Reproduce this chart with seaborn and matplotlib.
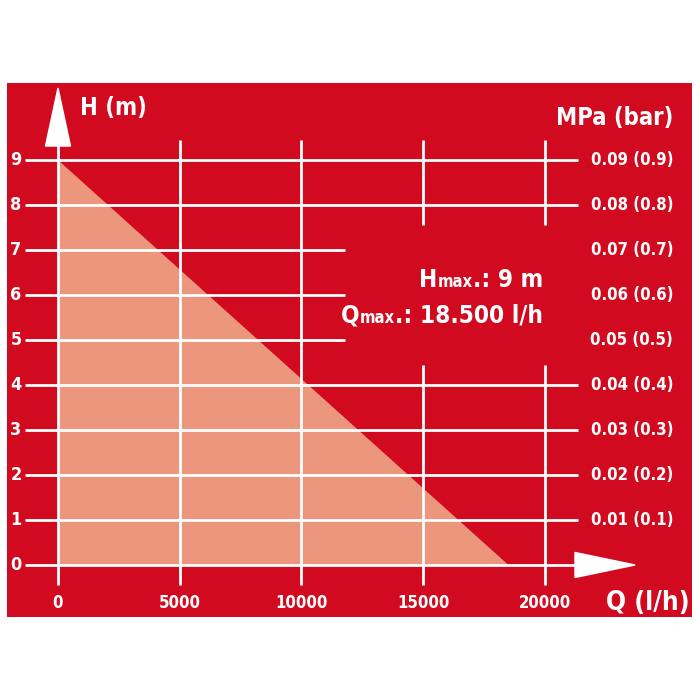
import matplotlib
matplotlib.use("Agg")
import matplotlib.pyplot as plt
from matplotlib.patches import Polygon
import seaborn as sns
import pandas as pd

# pump curve: delivery head H (m) over flow Q (l/h)
flow_q = [0, 18500]
head_h = [9, 0]

x_ticks = [0, 5000, 10000, 15000, 20000]
y_ticks = [0, 1, 2, 3, 4, 5, 6, 7, 8, 9]
pressure_labels = ["", "0.01 (0.1)", "0.02 (0.2)", "0.03 (0.3)", "0.04 (0.4)",
                   "0.05 (0.5)", "0.06 (0.6)", "0.07 (0.7)", "0.08 (0.8)", "0.09 (0.9)"]

RED = "#D20A1F"
SALMON = "#EC967E"
WHITE = "white"

sns.set_style("white")
plt.rcParams['font.family'] = ['DejaVu Sans']
plt.rcParams['font.weight'] = 'bold'
plt.rcParams['font.stretch'] = 'condensed'

fig = plt.figure(figsize=(7, 7), dpi=100)
ax = fig.add_axes([7 / 700, 83 / 700, 685 / 700, 534 / 700])
ax.set_facecolor(RED)
for s in ax.spines.values():
    s.set_visible(False)
ax.set_xlim(-2094, 26037)
ax.set_ylim(-1.156, 10.711)
ax.set_xticks([])
ax.set_yticks([])

# triangle area under the curve
df = pd.DataFrame({"Q": flow_q, "H": head_h})
sns.lineplot(data=df, x="Q", y="H", ax=ax, color=SALMON, linewidth=0, zorder=1)
ax.fill_between(df["Q"], df["H"], 0, color=SALMON, linewidth=0, zorder=1)

# grid, broken around the Hmax/Qmax box
lw = 2
for y in y_ticks:
    if y in (5, 6, 7):
        ax.hlines(y, -1356, 11800, color=WHITE, lw=lw, zorder=2)
    else:
        ax.hlines(y, -1356, 21350, color=WHITE, lw=lw, zorder=2)
for x in x_ticks:
    if x >= 15000:
        ax.vlines(x, -0.44, 4.44, color=WHITE, lw=lw, zorder=2)
        ax.vlines(x, 7.56, 9.44, color=WHITE, lw=lw, zorder=2)
    else:
        ax.vlines(x, -0.44, 9.44, color=WHITE, lw=lw, zorder=2)

# axis arrows
ax.add_patch(Polygon([[-513, 9.31], [513, 9.31], [0, 10.6]], closed=True,
                     color=WHITE, zorder=3))
ax.add_patch(Polygon([[21232, -0.278], [21232, 0.278], [23700, 0]], closed=True,
                     color=WHITE, zorder=3))

# tick labels
for y in y_ticks:
    ax.text(-1725, y, str(y), color=WHITE, fontsize=13, ha='center', va='center')
    if pressure_labels[y]:
        ax.text(25257, y, pressure_labels[y], color=WHITE, fontsize=12,
                ha='right', va='center')
for x in x_ticks:
    ax.text(x, -0.844, str(x), color=WHITE, fontsize=12, ha='center', va='center')

ax.text(903, 10.16, "H (m)", color=WHITE, fontsize=17, ha='left', va='center')
ax.text(25257, 9.93, "MPa (bar)", color=WHITE, fontsize=17, ha='right', va='center')
ax.text(25955, -0.84, "Q (l/h)", color=WHITE, fontsize=19, ha='right', va='center')

# Hmax / Qmax box, built right to left so "max." sits small on the baseline
fig.canvas.draw()
renderer = fig.canvas.get_renderer()
inv = ax.transData.inverted()


def spec_line(y, big, value):
    t1 = ax.text(19918, y, ".: " + value, color=WHITE, fontsize=17.5,
                 ha='right', va='baseline')
    bb = t1.get_window_extent(renderer)
    x1 = inv.transform((bb.x0, bb.y0))[0]
    t2 = ax.text(x1, y, "max", color=WHITE, fontsize=12, ha='right', va='baseline')
    bb = t2.get_window_extent(renderer)
    x2 = inv.transform((bb.x0, bb.y0))[0]
    ax.text(x2, y, big, color=WHITE, fontsize=17.5, ha='right', va='baseline')


spec_line(6.18, "H", "9 m")
spec_line(5.38, "Q", "18.500 l/h")

fig.savefig("out.png", dpi=100, facecolor="white")
